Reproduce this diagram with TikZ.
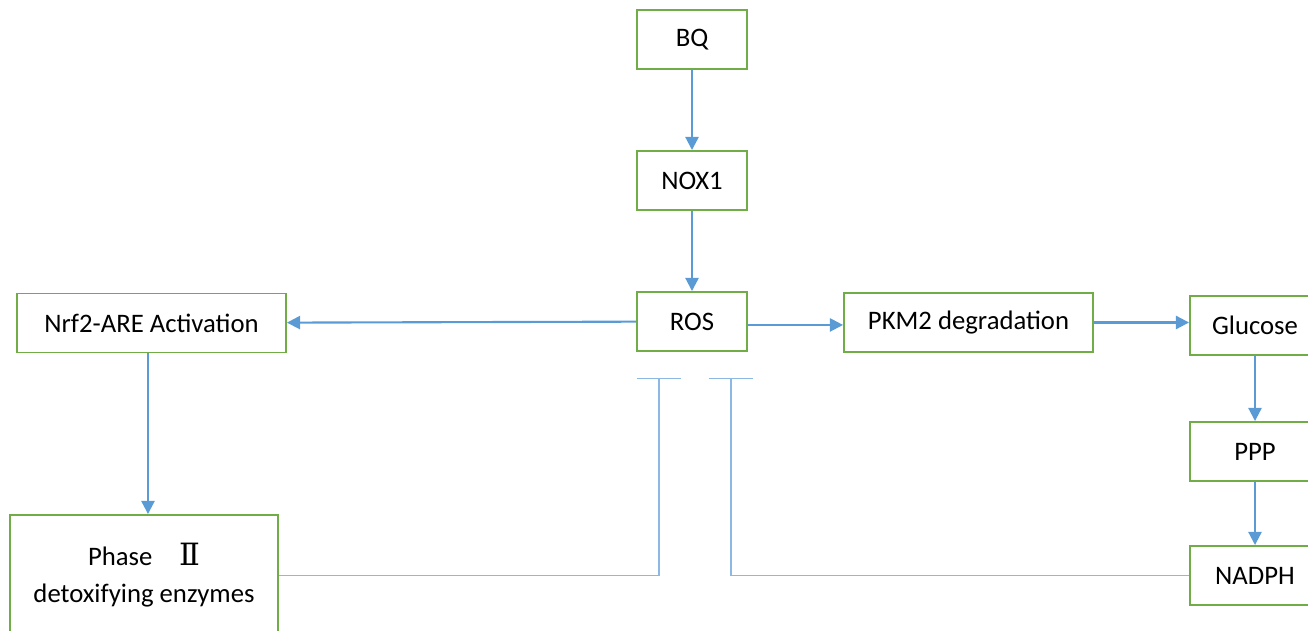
\documentclass[tikz,border=0pt]{standalone}
\usepackage{fontspec}
\setmainfont{Carlito}
\newfontfamily\numeralfont{DejaVu Serif}[Scale = 1.15]
\usetikzlibrary{arrows.meta}

\definecolor{boxgreen}{HTML}{70AD47}
\definecolor{arrowblue}{HTML}{5B9BD5}
\definecolor{lineblue}{HTML}{8DB8E4}

\begin{document}
\begin{tikzpicture}[x = 0.02cm, y = -0.02cm, > = {Triangle[length = 7.5pt, width = 7.5pt]},
	stepbox/.style = {draw = boxgreen, line width = 1.1pt, minimum height = 1.18cm,
		inner sep = 0pt, font = \fontsize{15.2}{21}\selectfont, align = center},
	flow/.style = {->, draw = arrowblue, line width = 1.2pt},
	inhib/.style = {-{Bar[width = 25.5pt]}, draw = lineblue, line width = 0.7pt}]

	\clip (0, 0) rectangle (1308, 631);

	% Central chain
	
	\node [stepbox, minimum width = 2.2cm] (bq) at (692, 39.5) {BQ};
	\node [stepbox, minimum width = 2.2cm] (nox) at (692, 180.5) {NOX1};
	\node [stepbox, minimum width = 2.2cm] (ros) at (692, 321.5) {ROS};
	
	\draw [flow] (bq) -- (nox);
	\draw [flow] (nox) -- (ros);

	% Left branch: Nrf2 pathway
	
	\node [stepbox, minimum width = 5.38cm] (nrf) at (151.5, 323) {Nrf2-ARE Activation};
	\node [stepbox, minimum width = 5.36cm, minimum height = 2.42cm] (phase) at (144, 575.5)
		{Phase\quad{\numeralfont Ⅱ}\\detoxifying enzymes};
	
	\draw [flow] (ros) -- (nrf);
	\draw [flow, transform canvas = {xshift = -2pt}] (nrf.south) -- (nrf.south |- phase.north);

	% Right branch: glucose metabolism
	
	\node [stepbox, minimum width = 4.98cm] (pkm) at (968.5, 322.5) {PKM2 degradation};
	\node [stepbox, minimum width = 2.6cm] (glu) at (1255, 325.5) {Glucose};
	\node [stepbox, minimum width = 2.6cm] (ppp) at (1255, 451.5) {PPP};
	\node [stepbox, minimum width = 2.6cm] (nadph) at (1255, 575.5) {NADPH};
	
	\draw [flow, transform canvas = {yshift = -1.4pt}] (ros.east |- pkm.west) -- (pkm.west);
	\draw [flow] (pkm.east) -- (pkm.east -| glu.west);
	\draw [flow] (glu) -- (ppp);
	\draw [flow] (ppp) -- (nadph);

	% Feedback inhibition of ROS
	
	\coordinate (block1) at (659, 378);
	\coordinate (block2) at (731, 378);
	
	\draw [inhib] (phase.east) -| (block1);
	\draw [inhib] (nadph.west) -| (block2);
	
\end{tikzpicture}
\end{document}
